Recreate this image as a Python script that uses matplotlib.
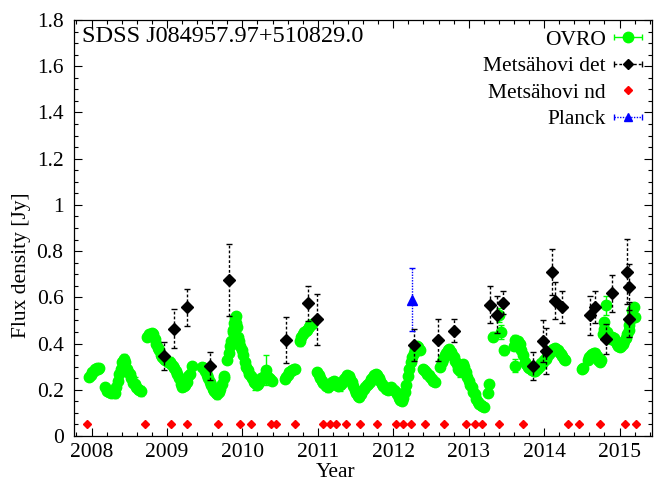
import numpy as np
import matplotlib
matplotlib.use("Agg")
import matplotlib.pyplot as plt
from matplotlib.container import ErrorbarContainer
from matplotlib.legend_handler import HandlerErrorbar
from matplotlib.lines import Line2D

plt.rcParams['font.family'] = ['Liberation Serif', 'DejaVu Serif']
plt.rcParams['mathtext.fontset'] = 'stix'

# ---------------- data ----------------
ovro_year = [
    2007.97, 2007.99, 2008.01, 2008.03, 2008.05, 2008.07, 2008.09, 2008.10,
    2008.18, 2008.20, 2008.23, 2008.26, 2008.29, 2008.31, 2008.33, 2008.35, 2008.37, 2008.39, 2008.41, 2008.43,
    2008.45, 2008.47, 2008.49, 2008.51, 2008.53, 2008.55, 2008.57, 2008.59, 2008.61, 2008.63, 2008.65,
    2008.74, 2008.76, 2008.78, 2008.80, 2008.82, 2008.84, 2008.86, 2008.88, 2008.90, 2008.92,
    2008.94, 2008.96, 2008.98, 2009.00, 2009.02, 2009.04, 2009.06, 2009.08, 2009.10, 2009.12,
    2009.14, 2009.16, 2009.18, 2009.20, 2009.22, 2009.24, 2009.26, 2009.28, 2009.30, 2009.33,
    2009.47, 2009.49, 2009.51, 2009.53, 2009.55, 2009.57, 2009.59, 2009.61, 2009.63, 2009.65,
    2009.67, 2009.69, 2009.71, 2009.73, 2009.75, 2009.76,
    2009.80, 2009.82, 2009.84, 2009.85, 2009.87, 2009.88, 2009.89, 2009.90, 2009.91, 2009.92,
    2009.93, 2009.94, 2009.96, 2009.97, 2009.99, 2010.01, 2010.03, 2010.05, 2010.07, 2010.09,
    2010.11, 2010.13, 2010.15, 2010.17, 2010.19, 2010.21, 2010.23, 2010.25, 2010.27, 2010.29,
    2010.31, 2010.33, 2010.35, 2010.37, 2010.39,
    2010.56, 2010.58, 2010.60, 2010.62, 2010.64, 2010.66, 2010.68, 2010.70,
    2010.76, 2010.78, 2010.80, 2010.82, 2010.84, 2010.86, 2010.88, 2010.90, 2010.92,
    2010.99, 2011.01, 2011.03, 2011.05, 2011.07, 2011.09, 2011.11, 2011.13, 2011.15, 2011.17,
    2011.19, 2011.21, 2011.23, 2011.25, 2011.27, 2011.29, 2011.31, 2011.33, 2011.35, 2011.37,
    2011.39, 2011.41, 2011.43, 2011.45, 2011.47, 2011.49, 2011.51, 2011.53, 2011.55, 2011.57,
    2011.59, 2011.61, 2011.63, 2011.65, 2011.67, 2011.69, 2011.71, 2011.73, 2011.75, 2011.77,
    2011.79, 2011.81, 2011.83, 2011.85, 2011.87, 2011.89, 2011.91, 2011.93, 2011.95, 2011.97,
    2011.99, 2012.01, 2012.03, 2012.05, 2012.07, 2012.09, 2012.11, 2012.13, 2012.15, 2012.17,
    2012.19, 2012.21, 2012.23, 2012.25, 2012.27, 2012.29, 2012.31, 2012.33, 2012.35,
    2012.39, 2012.41, 2012.43, 2012.45, 2012.47, 2012.49, 2012.51, 2012.53, 2012.55,
    2012.62, 2012.64, 2012.66, 2012.68, 2012.70, 2012.72, 2012.74, 2012.76, 2012.78, 2012.80,
    2012.82, 2012.84, 2012.86, 2012.88, 2012.90, 2012.92, 2012.94, 2012.96, 2012.98, 2013.00,
    2013.02, 2013.04, 2013.06, 2013.08, 2013.10, 2013.12, 2013.14, 2013.16, 2013.18, 2013.20,
    2013.26, 2013.27, 2013.32, 2013.40, 2013.43, 2013.47,
    2013.60, 2013.61, 2013.62,
    2013.64, 2013.66, 2013.68, 2013.70, 2013.72, 2013.74, 2013.76, 2013.78, 2013.80, 2013.82,
    2013.84, 2013.86, 2013.88, 2013.90, 2013.92, 2013.94, 2013.96, 2013.98, 2014.00, 2014.02,
    2014.04, 2014.06, 2014.08, 2014.10, 2014.12, 2014.14, 2014.16, 2014.18, 2014.20, 2014.22,
    2014.24, 2014.26, 2014.28,
    2014.50, 2014.52, 2014.58, 2014.60, 2014.62, 2014.64, 2014.66, 2014.68, 2014.70, 2014.72,
    2014.74, 2014.76, 2014.78, 2014.79, 2014.80, 2014.82, 2014.84, 2014.86, 2014.88, 2014.90,
    2014.92, 2014.94, 2014.96, 2014.98, 2015.00, 2015.02, 2015.04, 2015.06, 2015.08, 2015.10,
    2015.12, 2015.13, 2015.14, 2015.16, 2015.17, 2015.19, 2015.20,
]
ovro_flux = [
    0.255, 0.265, 0.275, 0.283, 0.290, 0.295, 0.290, 0.293,
    0.210, 0.195, 0.190, 0.185, 0.190, 0.185, 0.210, 0.240, 0.270, 0.290, 0.320, 0.335,
    0.320, 0.290, 0.275, 0.270, 0.250, 0.230, 0.225, 0.210, 0.205, 0.200, 0.195,
    0.430, 0.440, 0.435, 0.445, 0.440, 0.420, 0.400, 0.380, 0.370, 0.350,
    0.340, 0.335, 0.330, 0.325, 0.320, 0.320, 0.310, 0.305, 0.295, 0.280,
    0.270, 0.250, 0.225, 0.210, 0.215, 0.220, 0.235, 0.260, 0.270, 0.305,
    0.300, 0.295, 0.280, 0.265, 0.250, 0.235, 0.220, 0.205, 0.195, 0.185,
    0.180, 0.190, 0.205, 0.225, 0.250, 0.260,
    0.330, 0.360, 0.390, 0.410, 0.450, 0.460, 0.490, 0.510, 0.520, 0.490,
    0.470, 0.430, 0.410, 0.390, 0.370, 0.350, 0.320, 0.300, 0.285, 0.270,
    0.260, 0.250, 0.235, 0.230, 0.220, 0.225, 0.240, 0.250, 0.255, 0.250,
    0.285, 0.260, 0.250, 0.245, 0.240,
    0.245, 0.255, 0.265, 0.275, 0.280, 0.285, 0.290, 0.290,
    0.410, 0.430, 0.440, 0.450, 0.455, 0.460, 0.470, 0.480, 0.485,
    0.275, 0.265, 0.250, 0.240, 0.230, 0.225, 0.215, 0.210, 0.215, 0.225,
    0.235, 0.240, 0.235, 0.220, 0.215, 0.220, 0.225, 0.235, 0.245, 0.255,
    0.265, 0.260, 0.245, 0.235, 0.215, 0.200, 0.185, 0.175, 0.170, 0.180,
    0.195, 0.205, 0.210, 0.220, 0.225, 0.235, 0.245, 0.255, 0.265, 0.270,
    0.265, 0.250, 0.240, 0.225, 0.215, 0.210, 0.205, 0.200, 0.205, 0.210,
    0.205, 0.200, 0.190, 0.180, 0.165, 0.155, 0.150, 0.165, 0.190, 0.220,
    0.260, 0.290, 0.320, 0.340, 0.360, 0.375, 0.390, 0.385, 0.370,
    0.290, 0.285, 0.275, 0.270, 0.265, 0.255, 0.245, 0.240, 0.235,
    0.300, 0.320, 0.335, 0.350, 0.360, 0.370, 0.375, 0.365, 0.350, 0.340,
    0.325, 0.310, 0.290, 0.280, 0.300, 0.310, 0.300, 0.275, 0.255, 0.240,
    0.220, 0.210, 0.190, 0.180, 0.160, 0.145, 0.140, 0.135, 0.130, 0.125,
    0.185, 0.225, 0.430, 0.525, 0.450, 0.370,
    0.390, 0.415, 0.305,
    0.390, 0.410, 0.400, 0.370, 0.350, 0.320, 0.310, 0.300, 0.295, 0.290,
    0.285, 0.280, 0.280, 0.290, 0.295, 0.305, 0.315, 0.320, 0.330, 0.335,
    0.345, 0.355, 0.365, 0.370, 0.375, 0.380, 0.375, 0.370, 0.365, 0.355,
    0.345, 0.335, 0.330,
    0.290, 0.295, 0.330, 0.340, 0.350, 0.355, 0.360, 0.360, 0.345, 0.330,
    0.320, 0.330, 0.440, 0.465, 0.495, 0.565, 0.450, 0.430, 0.420, 0.430,
    0.425, 0.410, 0.400, 0.390, 0.385, 0.390, 0.400, 0.410, 0.425, 0.440,
    0.460, 0.480, 0.500, 0.520, 0.545, 0.560, 0.515,
]
ovro_err = [
    0.010, 0.010, 0.012, 0.010, 0.010, 0.012, 0.010, 0.010,
    0.012, 0.012, 0.015, 0.012, 0.012, 0.020, 0.012, 0.012, 0.012, 0.012, 0.012, 0.020,
    0.012, 0.012, 0.012, 0.015, 0.012, 0.012, 0.030, 0.012, 0.012, 0.015, 0.020,
    0.012, 0.012, 0.015, 0.020, 0.012, 0.012, 0.012, 0.012, 0.012, 0.012,
    0.015, 0.012, 0.012, 0.012, 0.012, 0.020, 0.012, 0.012, 0.012, 0.012,
    0.012, 0.012, 0.012, 0.015, 0.012, 0.012, 0.012, 0.012, 0.012, 0.012,
    0.015, 0.012, 0.012, 0.012, 0.012, 0.012, 0.012, 0.020, 0.012, 0.012,
    0.020, 0.012, 0.012, 0.012, 0.012, 0.012,
    0.012, 0.012, 0.012, 0.012, 0.012, 0.012, 0.012, 0.020, 0.012, 0.012,
    0.012, 0.012, 0.020, 0.012, 0.012, 0.012, 0.012, 0.012, 0.012, 0.012,
    0.012, 0.012, 0.012, 0.030, 0.012, 0.012, 0.012, 0.012, 0.012, 0.020,
    0.065, 0.012, 0.012, 0.012, 0.012,
    0.012, 0.012, 0.015, 0.012, 0.012, 0.012, 0.012, 0.012,
    0.020, 0.012, 0.012, 0.015, 0.012, 0.012, 0.012, 0.012, 0.012,
    0.012, 0.012, 0.012, 0.012, 0.012, 0.012, 0.012, 0.020, 0.012, 0.012,
    0.012, 0.012, 0.012, 0.012, 0.012, 0.025, 0.012, 0.012, 0.012, 0.012,
    0.012, 0.012, 0.012, 0.012, 0.012, 0.012, 0.012, 0.012, 0.012, 0.020,
    0.012, 0.012, 0.012, 0.012, 0.012, 0.012, 0.012, 0.012, 0.012, 0.012,
    0.012, 0.012, 0.012, 0.015, 0.012, 0.012, 0.012, 0.012, 0.012, 0.012,
    0.012, 0.012, 0.012, 0.012, 0.012, 0.015, 0.012, 0.012, 0.012, 0.012,
    0.012, 0.012, 0.012, 0.012, 0.012, 0.012, 0.012, 0.012, 0.012,
    0.012, 0.012, 0.025, 0.012, 0.012, 0.012, 0.012, 0.012, 0.012,
    0.012, 0.012, 0.012, 0.012, 0.012, 0.012, 0.020, 0.012, 0.012, 0.012,
    0.020, 0.012, 0.012, 0.025, 0.012, 0.012, 0.012, 0.012, 0.012, 0.012,
    0.012, 0.020, 0.012, 0.012, 0.012, 0.012, 0.012, 0.012, 0.012, 0.012,
    0.015, 0.015, 0.020, 0.030, 0.030, 0.020,
    0.020, 0.020, 0.030,
    0.012, 0.012, 0.012, 0.012, 0.012, 0.012, 0.012, 0.012, 0.012, 0.020,
    0.012, 0.012, 0.012, 0.012, 0.012, 0.012, 0.012, 0.012, 0.012, 0.012,
    0.012, 0.012, 0.012, 0.012, 0.012, 0.012, 0.012, 0.012, 0.012, 0.012,
    0.012, 0.012, 0.012,
    0.012, 0.012, 0.020, 0.012, 0.012, 0.012, 0.012, 0.012, 0.012, 0.012,
    0.012, 0.020, 0.012, 0.012, 0.012, 0.040, 0.012, 0.012, 0.012, 0.012,
    0.012, 0.012, 0.012, 0.012, 0.012, 0.012, 0.012, 0.012, 0.012, 0.012,
    0.012, 0.012, 0.012, 0.012, 0.020, 0.012, 0.012,
]

met_det_year = [2008.96, 2009.09, 2009.26, 2009.57, 2009.825, 2010.58, 2010.87, 2010.99,
                2012.28, 2012.59, 2012.81, 2013.28, 2013.37, 2013.45, 2013.85, 2013.98,
                2014.02, 2014.10, 2014.15, 2014.24, 2014.61, 2014.68, 2014.82, 2014.90,
                2015.10, 2015.13, 2015.12]
met_det_flux = [0.345, 0.465, 0.557, 0.303, 0.675, 0.416, 0.574, 0.505,
                0.394, 0.416, 0.456, 0.567, 0.524, 0.577, 0.304, 0.410,
                0.369, 0.711, 0.586, 0.557, 0.522, 0.557, 0.418, 0.618,
                0.711, 0.646, 0.505]
met_det_err = [0.060, 0.083, 0.080, 0.060, 0.155, 0.100, 0.075, 0.110,
               0.070, 0.090, 0.050, 0.080, 0.080, 0.050, 0.060, 0.090,
               0.100, 0.100, 0.080, 0.070, 0.085, 0.070, 0.065, 0.080,
               0.140, 0.100, 0.075]

met_nd_year = [2007.94, 2008.71, 2009.05, 2009.26, 2009.68, 2009.97, 2010.12, 2010.38,
               2010.45, 2010.70, 2011.07, 2011.16, 2011.24, 2011.37, 2011.56, 2011.78,
               2012.04, 2012.13, 2012.24, 2012.42, 2012.67, 2012.96, 2013.09, 2013.18,
               2013.40, 2013.72, 2014.32, 2014.46, 2014.74, 2015.07, 2015.22]
met_nd_flux = [0.05] * len(met_nd_year)

planck_year = [2012.25]
planck_flux = [0.59]
planck_err = [0.135]

source_name = "SDSS J084957.97+510829.0"
legend_labels = ["OVRO", "Metsähovi det", "Metsähovi nd", "Planck"]

# ---------------- figure ----------------
W, H = 656, 482
fig = plt.figure(figsize=(W / 100, H / 100), dpi=100)
ax = fig.add_axes([74 / W, 46 / H, 578 / W, 416 / H])

GREEN = '#00ff00'

ax.errorbar(ovro_year, ovro_flux, yerr=ovro_err, fmt='o', ms=7.5, color=GREEN,
            ecolor=GREEN, elinewidth=1.0, capsize=2, capthick=1.0, zorder=2)

det = ax.errorbar(met_det_year, met_det_flux, yerr=met_det_err, fmt='D', ms=6, color='black',
                  ecolor='black', elinewidth=1.0, capsize=2.5, capthick=1.0, zorder=4)
det[2][0].set_linestyle((0, (2, 1.5)))

ax.plot(met_nd_year, met_nd_flux, 'D', ms=3.8, color='red', zorder=3)

pl = ax.errorbar(planck_year, planck_flux, yerr=planck_err, fmt='^', ms=6.5, color='blue',
                 ecolor='blue', elinewidth=1.0, capsize=2.5, capthick=1.0, zorder=5)
pl[2][0].set_linestyle((0, (1, 1)))

# legend handles (gnuplot style: horizontal bar with caps)
h_ovro = ax.errorbar([np.nan], [np.nan], xerr=[0.1], fmt='o', ms=7.5, color=GREEN,
                     ecolor=GREEN, elinewidth=1.0, capsize=2.5)
h_det = ax.errorbar([np.nan], [np.nan], xerr=[0.1], fmt='D', ms=5, color='black',
                    ecolor='black', elinewidth=1.0, capsize=2.5)
h_det[2][0].set_linestyle((0, (2, 1.5)))
h_nd = Line2D([], [], marker='D', ms=3.8, color='red', linestyle='none')
h_pl = ax.errorbar([np.nan], [np.nan], xerr=[0.1], fmt='^', ms=6, color='blue',
                   ecolor='blue', elinewidth=1.0, capsize=2.5)
h_pl[2][0].set_linestyle((0, (1, 1)))

leg = ax.legend([h_ovro, h_det, h_nd, h_pl], legend_labels, loc='upper right',
                markerfirst=False, frameon=False, fontsize=15.5, numpoints=1,
                handlelength=1.35, handletextpad=0.35, labelspacing=0.30,
                borderaxespad=0.25, borderpad=0.2,
                handler_map={ErrorbarContainer: HandlerErrorbar(xerr_size=0.65)})

ax.text(0.013, 0.985, source_name, transform=ax.transAxes, ha='left', va='top',
        fontsize=17.5)

ax.set_xlim(2007.768, 2015.43)
ax.set_ylim(0, 1.8)
ax.set_xticks([2008, 2009, 2010, 2011, 2012, 2013, 2014, 2015])
ax.set_xticks(np.arange(2007.8, 2015.45, 0.2), minor=True)
ax.set_yticks(np.arange(0, 1.81, 0.2))
ax.set_yticks(np.arange(0, 1.81, 0.05), minor=True)
ax.yaxis.set_major_formatter(matplotlib.ticker.FormatStrFormatter('%g'))
ax.xaxis.set_major_formatter(matplotlib.ticker.FormatStrFormatter('%d'))
ax.tick_params(which='both', direction='in', top=True, right=True, labelsize=15.5)
ax.tick_params(which='major', length=6, width=0.8)
ax.tick_params(which='minor', length=3, width=0.8)
ax.tick_params(axis='x', pad=5)
ax.tick_params(axis='y', pad=7.5)
for s in ax.spines.values():
    s.set_linewidth(0.9)

ax.set_xlabel('Year', fontsize=15.5)
ax.set_ylabel('Flux density [Jy]', fontsize=15.5)
ax.xaxis.set_label_coords(0.452, -0.065)
ax.yaxis.set_label_coords(-0.074, 0.41)

fig.savefig('out.png', dpi=100)
